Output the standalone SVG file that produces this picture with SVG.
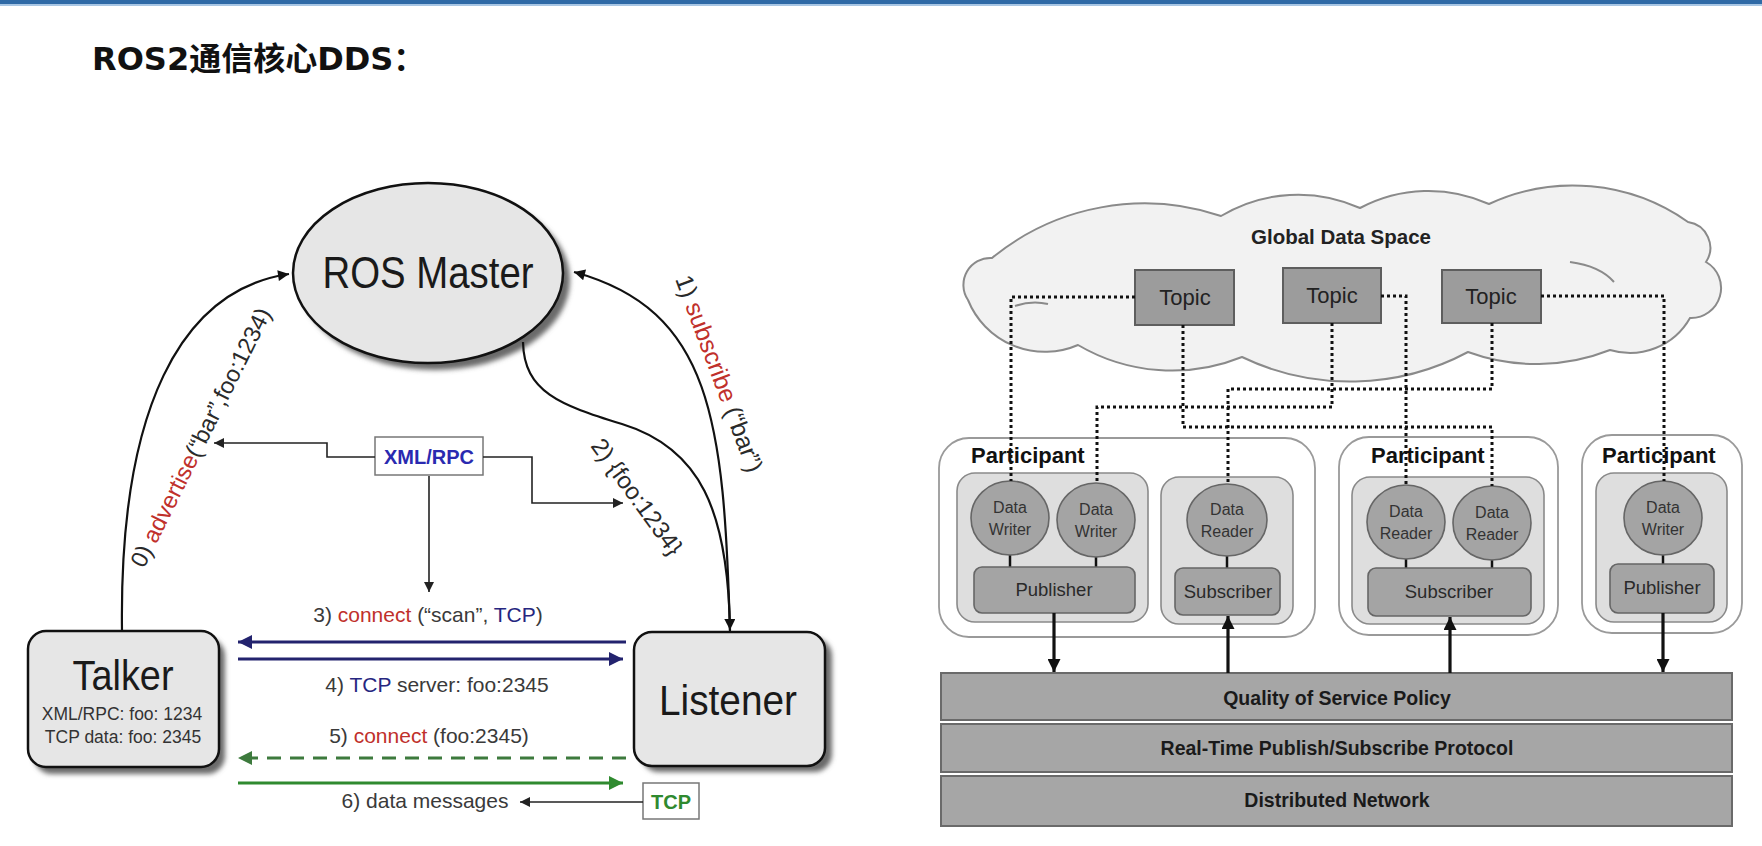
<svg xmlns="http://www.w3.org/2000/svg" width="1762" height="846" viewBox="0 0 1762 846">
<style>
.t{font-family:"Liberation Sans",Arial,sans-serif}
.big{font-size:44px;fill:#1a1a1a;text-anchor:middle}
.lbl{font-size:21px;fill:#3a3a3a;text-anchor:middle}
.rot{font-size:24px;fill:#2a2a2a}
.red{fill:#c0302b}
.blue{fill:#262680}
.node{fill:#e6e6e6;stroke:#111;stroke-width:2.5}
.shadow{fill:#6a6a6a;filter:url(#blur)}
.curve{fill:none;stroke:#111;stroke-width:2.2}
.thin{fill:none;stroke:#222;stroke-width:1.6}
.part{fill:#fff;stroke:#9a9a9a;stroke-width:1.8}
.inner{fill:#dedede;stroke:#8a8a8a;stroke-width:1.6}
.ent{fill:#a4a4a4;stroke:#666;stroke-width:1.6}
.topic{fill:#9c9c9c;stroke:#5e5e5e;stroke-width:2}
.layer{fill:#a6a6a6;stroke:#6a6a6a;stroke-width:2}
.dot{fill:none;stroke:#111;stroke-width:3;stroke-dasharray:3 3}
.stub{stroke:#111;stroke-width:2.5}
.thick{stroke:#111;stroke-width:3.2;fill:none}
.small{font-size:16px;fill:#3a3a3a;text-anchor:middle}
.mid{font-size:18.5px;fill:#2a2a2a;text-anchor:middle}
.topict{font-size:22px;fill:#222;text-anchor:middle}
.bold{font-weight:bold}
</style>
<defs>
<filter id="blur" x="-10%" y="-10%" width="130%" height="130%"><feGaussianBlur stdDeviation="2.5"/></filter>
<marker id="ahBlack" viewBox="0 0 10 10" refX="10" refY="5" markerWidth="15" markerHeight="11" markerUnits="userSpaceOnUse" orient="auto"><path d="M0,0 L10,5 L0,10 z" fill="#111"/></marker>
<marker id="ahThin" viewBox="0 0 10 10" refX="10" refY="5" markerWidth="13" markerHeight="10" markerUnits="userSpaceOnUse" orient="auto"><path d="M0,0 L10,5 L0,10 z" fill="#222"/></marker>
<marker id="ahNavy" viewBox="0 0 10 10" refX="10" refY="5" markerWidth="18" markerHeight="14" markerUnits="userSpaceOnUse" orient="auto"><path d="M0,0 L10,5 L0,10 z" fill="#23236e"/></marker>
<marker id="ahGreen" viewBox="0 0 10 10" refX="10" refY="5" markerWidth="18" markerHeight="14" markerUnits="userSpaceOnUse" orient="auto"><path d="M0,0 L10,5 L0,10 z" fill="#2f8a2f"/></marker>
<marker id="ahDGreen" viewBox="0 0 10 10" refX="10" refY="5" markerWidth="18" markerHeight="14" markerUnits="userSpaceOnUse" orient="auto"><path d="M0,0 L10,5 L0,10 z" fill="#3d7a3d"/></marker>
<marker id="ahThick" viewBox="0 0 10 10" refX="10" refY="5" markerWidth="14" markerHeight="13" markerUnits="userSpaceOnUse" orient="auto"><path d="M0,0 L10,5 L0,10 z" fill="#111"/></marker>
</defs>
<rect width="1762" height="846" fill="#fff"/>
<g id="header">
<rect x="0" y="0" width="1762" height="4" fill="#2f6aa6"/>
<rect x="0" y="4" width="1762" height="2" fill="#a8c6e4"/>
<text x="92" y="70" style="font-family:'DejaVu Sans','Noto Sans CJK SC',sans-serif;font-weight:bold;font-size:32px;fill:#111">ROS2通信核心DDS：</text>
</g>

<!-- Left diagram: ROS1 -->
<g id="ros-master">
<ellipse class="shadow" cx="435" cy="280" rx="135" ry="90"/>
<ellipse class="node" cx="428" cy="273" rx="135" ry="90"/>
<text class="t big" x="428" y="288" textLength="211" lengthAdjust="spacingAndGlyphs">ROS Master</text>
</g>
<g id="talker">
<rect class="shadow" x="34" y="638" width="191" height="136" rx="18"/>
<rect class="node" x="28" y="631" width="191" height="136" rx="18"/>
<text class="t big" x="123" y="690" style="font-size:42px" textLength="101" lengthAdjust="spacingAndGlyphs">Talker</text>
<text class="t small" x="122" y="720" style="font-size:17.5px;fill:#333">XML/RPC: foo: 1234</text>
<text class="t small" x="123" y="743" style="font-size:17.5px;fill:#333">TCP data: foo: 2345</text>
</g>
<g id="listener">
<rect class="shadow" x="641" y="638" width="191" height="134" rx="18"/>
<rect class="node" x="634" y="632" width="191" height="134" rx="18"/>
<text class="t big" x="728" y="715" style="font-size:42px" textLength="138" lengthAdjust="spacingAndGlyphs">Listener</text>
</g>
<g id="xmlrpc">
<rect x="375" y="437" width="108" height="38" fill="#fff" stroke="#777" stroke-width="1.5"/>
<text class="t bold" x="429" y="464" text-anchor="middle" style="font-size:20px;fill:#2a2ab0">XML/RPC</text>
</g>
<g id="tcp">
<rect x="643" y="783" width="56" height="36" fill="#fff" stroke="#777" stroke-width="1.5"/>
<text class="t" x="671" y="809" text-anchor="middle" style="font-size:20px;fill:#2f8a2f;font-weight:bold">TCP</text>
</g>

<g id="connectors-left">
<path class="curve" d="M122,631 C119,410 180,290 289,274" marker-end="url(#ahBlack)"/>
<path class="curve" d="M730,632 C724,420 712,310 574,272" marker-end="url(#ahBlack)"/>
<path class="curve" d="M523,342 C524,392 560,405 622,424 C700,448 728,510 730,630" marker-end="url(#ahBlack)"/>
<path class="thin" d="M375,457 H327 V443 H214" marker-end="url(#ahThin)"/>
<path class="thin" d="M483,457 H532 V503 H623" marker-end="url(#ahThin)"/>
<path class="thin" d="M429,476 V592" marker-end="url(#ahThin)"/>
<path d="M626,642 H238" stroke="#23236e" stroke-width="3" marker-end="url(#ahNavy)"/>
<path d="M238,659 H623" stroke="#23236e" stroke-width="3" marker-end="url(#ahNavy)"/>
<path d="M626,758 H238" stroke="#3d7a3d" stroke-width="3" stroke-dasharray="14 9" marker-end="url(#ahDGreen)"/>
<path d="M238,783 H623" stroke="#2f8a2f" stroke-width="3" marker-end="url(#ahGreen)"/>
<path class="thin" d="M643,802 H520" marker-end="url(#ahThin)"/>
</g>
<g id="labels-left">
<text class="t rot" style="font-size:23.5px" transform="translate(144,569) rotate(-63.5)">0) <tspan class="red">advertise</tspan>(“bar”,foo:1234)</text>
<text class="t rot" style="font-size:24.5px" transform="translate(675,279) rotate(69.5)">1) <tspan class="red">subscribe</tspan> (“bar”)</text>
<text class="t rot" transform="translate(590,446) rotate(54)">2) {foo:1234}</text>
<text class="t lbl" x="428" y="622">3) <tspan class="red">connect</tspan> (“scan”, <tspan class="blue">TCP</tspan>)</text>
<text class="t lbl" x="437" y="692">4) <tspan class="blue">TCP</tspan> server: foo:2345</text>
<text class="t lbl" x="429" y="743">5) <tspan class="red">connect</tspan> (foo:2345)</text>
<text class="t lbl" x="425" y="808">6) data messages</text>
</g>

<!-- Right diagram: DDS -->
<g id="global-data-space">
<path d="M968,300 A27,27 0 0 1 992,258 A240,240 0 0 1 1221,216 A150,150 0 0 1 1360,208 A146,146 0 0 1 1489,204 A200,200 0 0 1 1688,222 A26,26 0 0 1 1706,262 A30,30 0 0 1 1690,318 A69,69 0 0 1 1610,350 A200,200 0 0 1 1468,352 A250,250 0 0 1 1242,357 A186,186 0 0 1 1078,345 A83,83 0 0 1 968,300 Z" fill="#f2f2f2" stroke="#8a8a8a" stroke-width="2"/>
<path d="M1015,306 Q1032,300 1048,304" fill="none" stroke="#8a8a8a" stroke-width="2"/>
<path d="M1570,262 Q1600,266 1614,282" fill="none" stroke="#8a8a8a" stroke-width="2"/>
<text class="t bold" x="1341" y="244" text-anchor="middle" style="font-size:20.5px;fill:#222">Global Data Space</text>
</g>
<g id="topic-1"><rect class="topic" x="1135" y="270" width="99" height="55"/><text class="t topict" x="1185" y="305">Topic</text></g>
<g id="topic-2"><rect class="topic" x="1283" y="268" width="98" height="55"/><text class="t topict" x="1332" y="303">Topic</text></g>
<g id="topic-3"><rect class="topic" x="1442" y="270" width="99" height="53"/><text class="t topict" x="1491" y="304">Topic</text></g>

<g id="participant-1">
<rect class="part" x="939" y="438" width="376" height="199" rx="30"/>
<text class="t bold" x="971" y="463" style="font-size:22px;fill:#111">Participant</text>
<rect class="inner" x="957" y="473" width="191" height="149" rx="18"/>
<line class="stub" x1="1010" y1="554" x2="1010" y2="567"/>
<line class="stub" x1="1096" y1="556" x2="1096" y2="567"/>
<ellipse class="ent" cx="1010" cy="518" rx="39" ry="37"/>
<ellipse class="ent" cx="1096" cy="520" rx="39" ry="37"/>
<text class="t small" x="1010" y="513" style="fill:#333">Data</text><text class="t small" x="1010" y="535" style="fill:#333">Writer</text>
<text class="t small" x="1096" y="515" style="fill:#333">Data</text><text class="t small" x="1096" y="537" style="fill:#333">Writer</text>
<rect class="ent" x="974" y="567" width="161" height="46" rx="8"/>
<text class="t mid" x="1054" y="596">Publisher</text>
<rect class="inner" x="1161" y="477" width="132" height="147" rx="18"/>
<line class="stub" x1="1227" y1="556" x2="1227" y2="568"/>
<ellipse class="ent" cx="1227" cy="520" rx="40" ry="36"/>
<text class="t small" x="1227" y="515" style="fill:#333">Data</text><text class="t small" x="1227" y="537" style="fill:#333">Reader</text>
<rect class="ent" x="1175" y="568" width="105" height="47" rx="8"/>
<text class="t mid" x="1228" y="598">Subscriber</text>
</g>
<g id="participant-2">
<rect class="part" x="1339" y="437" width="219" height="198" rx="30"/>
<text class="t bold" x="1371" y="463" style="font-size:22px;fill:#111">Participant</text>
<rect class="inner" x="1352" y="477" width="192" height="147" rx="18"/>
<line class="stub" x1="1406" y1="558" x2="1406" y2="568"/>
<line class="stub" x1="1492" y1="559" x2="1492" y2="568"/>
<ellipse class="ent" cx="1406" cy="522" rx="39" ry="37"/>
<ellipse class="ent" cx="1492" cy="523" rx="39" ry="37"/>
<text class="t small" x="1406" y="517" style="fill:#333">Data</text><text class="t small" x="1406" y="539" style="fill:#333">Reader</text>
<text class="t small" x="1492" y="518" style="fill:#333">Data</text><text class="t small" x="1492" y="540" style="fill:#333">Reader</text>
<rect class="ent" x="1368" y="568" width="163" height="48" rx="8"/>
<text class="t mid" x="1449" y="598">Subscriber</text>
</g>
<g id="participant-3">
<rect class="part" x="1582" y="435" width="160" height="198" rx="30"/>
<text class="t bold" x="1602" y="463" style="font-size:22px;fill:#111">Participant</text>
<rect class="inner" x="1596" y="473" width="131" height="149" rx="18"/>
<line class="stub" x1="1663" y1="554" x2="1663" y2="564"/>
<ellipse class="ent" cx="1663" cy="518" rx="39" ry="37"/>
<text class="t small" x="1663" y="513" style="fill:#333">Data</text><text class="t small" x="1663" y="535" style="fill:#333">Writer</text>
<rect class="ent" x="1610" y="564" width="104" height="49" rx="8"/>
<text class="t mid" x="1662" y="594">Publisher</text>
</g>
<g id="layer-qos"><rect class="layer" x="941" y="673" width="791" height="47"/><text class="t bold" x="1337" y="705" text-anchor="middle" style="font-size:19.5px;fill:#1a1a1a">Quality of Service Policy</text></g>
<g id="layer-rtps"><rect class="layer" x="941" y="724" width="791" height="48"/><text class="t bold" x="1337" y="755" text-anchor="middle" style="font-size:19.5px;fill:#1a1a1a">Real-Time Publish/Subscribe Protocol</text></g>
<g id="layer-network"><rect class="layer" x="941" y="776" width="791" height="50"/><text class="t bold" x="1337" y="807" text-anchor="middle" style="font-size:19.5px;fill:#1a1a1a">Distributed Network</text></g>

<g id="connectors-right">
<path class="dot" d="M1135,297 H1011 V481"/>
<path class="dot" d="M1183,325 V427 H1492 V486"/>
<path class="dot" d="M1332,323 V407 H1097 V483"/>
<path class="dot" d="M1381,296 H1406 V485"/>
<path class="dot" d="M1492,323 V389 H1228 V484"/>
<path class="dot" d="M1541,296 H1664 V481"/>
<path class="thick" d="M1054,613 V672" marker-end="url(#ahThick)"/>
<path class="thick" d="M1228,673 V616" marker-end="url(#ahThick)"/>
<path class="thick" d="M1450,673 V617" marker-end="url(#ahThick)"/>
<path class="thick" d="M1663,613 V672" marker-end="url(#ahThick)"/>
</g>
</svg>
